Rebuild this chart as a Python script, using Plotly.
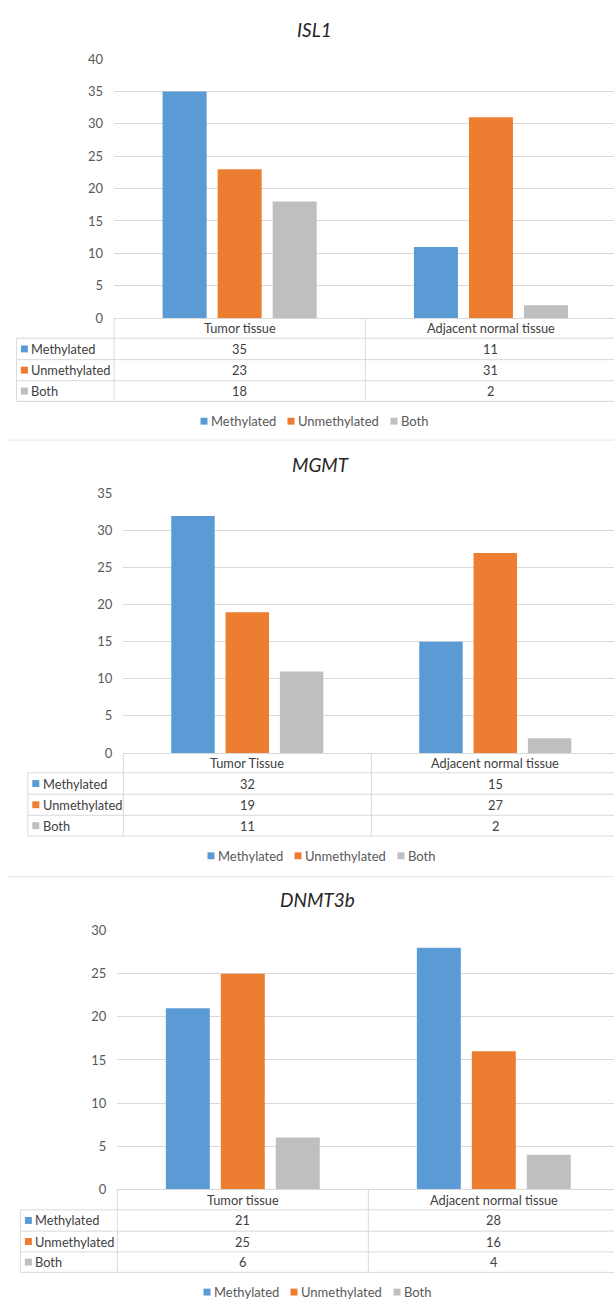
import plotly.graph_objects as go

W, H = 614, 1307

# ---------------- data ----------------
genes = ["ISL1", "MGMT", "DNMT3b"]
series_names = ["Methylated", "Unmethylated", "Both"]
cats_isl1 = ["Tumor tissue", "Adjacent normal tissue"]
cats_mgmt = ["Tumor Tissue", "Adjacent normal tissue"]
cats_dnmt3b = ["Tumor tissue", "Adjacent normal tissue"]

isl1_methylated = [35, 11]
isl1_unmethylated = [23, 31]
isl1_both = [18, 2]

mgmt_methylated = [32, 15]
mgmt_unmethylated = [19, 27]
mgmt_both = [11, 2]

dnmt3b_methylated = [21, 28]
dnmt3b_unmethylated = [25, 16]
dnmt3b_both = [6, 4]

y_max = [40, 35, 30]
y_step = 5

colors = ["#5B9BD5", "#ED7D31", "#BFBFBF"]

datasets = [
    (cats_isl1, [isl1_methylated, isl1_unmethylated, isl1_both]),
    (cats_mgmt, [mgmt_methylated, mgmt_unmethylated, mgmt_both]),
    (cats_dnmt3b, [dnmt3b_methylated, dnmt3b_unmethylated, dnmt3b_both]),
]

# ---------------- layout geometry (pixels) ----------------
panels = [
    dict(plot_left=114.0, y0=314.0, ytop=51.7, label_left=16.4,
         rows=[334.3, 356.0, 377.3, 398.3], title_y=22, legend_y=418.3,
         sep=437.5, center=314, cat_px=251.3),
    dict(plot_left=123.3, y0=754.2, ytop=491.7, label_left=27.8,
         rows=[774.3, 796.0, 817.3, 838.3], title_y=462, legend_y=858.3,
         sep=879.5, center=321, cat_px=248.0),
    dict(plot_left=117.3, y0=1196.0, ytop=934.0, label_left=20.4,
         rows=[1216.7, 1238.3, 1259.3, 1280.0], title_y=903, legend_y=1300.0,
         sep=None, center=317, cat_px=251.0),
]

FONT = "Lato, 'Open Sans', sans-serif"
GRID = "#D9D9D9"
TXT = "#404040"
TICK = "#595959"
TS = 12.8


def px(x):
    return x / W


def py(y):
    return 1 - y / H


fig = go.Figure()
shapes = []
annotations = []
layout_axes = {}

for i, (p, (cats, series)) in enumerate(zip(panels, datasets)):
    sfx = "" if i == 0 else str(i + 1)
    xa, ya = "x" + sfx, "y" + sfx
    for name, vals, col in zip(series_names, series, colors):
        fig.add_trace(go.Bar(
            x=cats, y=vals, name=name, marker=dict(color=col, line=dict(width=0)),
            xaxis=xa, yaxis=ya, showlegend=False,
        ))

    xr = [-0.5, -0.5 + (W - p["plot_left"]) / p["cat_px"]]
    layout_axes["xaxis" + sfx] = dict(
        domain=[px(p["plot_left"]), 1.0], anchor=ya, type="category",
        range=xr, showgrid=False, zeroline=False,
        showline=True, linecolor=GRID, linewidth=1,
        ticks="", showticklabels=False,
    )
    layout_axes["yaxis" + sfx] = dict(
        domain=[py(p["y0"]), py(p["ytop"])], anchor=xa,
        range=[0, y_max[i]], tickmode="array",
        tickvals=list(range(0, y_max[i] + 1, y_step)),
        showgrid=True, gridcolor=GRID, gridwidth=1, zeroline=False,
        showline=False, ticks="", ticklabelstandoff=10,
        tickfont=dict(family=FONT, size=13, color=TICK),
    )

    rows = p["rows"]
    L = p["label_left"]
    line = dict(color=GRID, width=1)
    # horizontal table lines
    for yy in rows:
        shapes.append(dict(type="line", xref="paper", yref="paper",
                           x0=px(L), x1=1.0, y0=py(yy), y1=py(yy), line=line))
    # vertical table lines
    shapes.append(dict(type="line", xref="paper", yref="paper",
                       x0=px(L), x1=px(L), y0=py(rows[0]), y1=py(rows[-1]), line=line))
    shapes.append(dict(type="line", xref="paper", yref="paper",
                       x0=px(p["plot_left"]), x1=px(p["plot_left"]),
                       y0=py(p["y0"]), y1=py(rows[-1]), line=line))
    shapes.append(dict(type="line", xref=xa, yref="paper",
                       x0=0.5, x1=0.5, y0=py(p["y0"]), y1=py(rows[-1]), line=line))

    # header row (category names)
    yh = (p["y0"] + rows[0]) / 2
    for c, cat in enumerate(cats):
        annotations.append(dict(text=cat, xref=xa, yref="paper",
                                x=c, y=py(yh), xanchor="center", yanchor="middle",
                                showarrow=False, font=dict(family=FONT, size=TS, color=TXT)))

    # table rows
    for r, (name, vals, col) in enumerate(zip(series_names, series, colors)):
        yc = (rows[r] + rows[r + 1]) / 2
        shapes.append(dict(type="rect", xref="paper", yref="paper",
                           x0=px(L + 4.5), x1=px(L + 11.5),
                           y0=py(yc + 3.5), y1=py(yc - 3.5),
                           fillcolor=col, line=dict(width=0)))
        annotations.append(dict(text=name, xref="paper", yref="paper",
                                x=px(L + 13.0), y=py(yc), xanchor="left", yanchor="middle",
                                showarrow=False, font=dict(family=FONT, size=TS, color=TXT)))
        for c, v in enumerate(vals):
            annotations.append(dict(text=str(v), xref=xa, yref="paper",
                                    x=c, y=py(yc), xanchor="center", yanchor="middle",
                                    showarrow=False, font=dict(family=FONT, size=TS, color=TXT)))

    # title
    annotations.append(dict(text="<i>%s</i>" % genes[i], xref="paper", yref="paper",
                            x=px(p["center"]), y=py(p["title_y"]), xanchor="center",
                            yanchor="middle", showarrow=False,
                            font=dict(family=FONT, size=19, color="#262626")))

    # legend
    start = p["center"] - 113.5
    sq_off = [0, 87, 190]
    tx_off = [8.5, 95.5, 198.5]
    for name, col, so, to in zip(series_names, colors, sq_off, tx_off):
        shapes.append(dict(type="rect", xref="paper", yref="paper",
                           x0=px(start + so), x1=px(start + so + 7),
                           y0=py(p["legend_y"] + 3.5), y1=py(p["legend_y"] - 3.5),
                           fillcolor=col, line=dict(width=0)))
        annotations.append(dict(text=name, xref="paper", yref="paper",
                                x=px(start + to), y=py(p["legend_y"]),
                                xanchor="left", yanchor="middle", showarrow=False,
                                font=dict(family=FONT, size=13, color=TICK)))

    if p["sep"] is not None:
        shapes.append(dict(type="line", xref="paper", yref="paper",
                           x0=px(7), x1=1.0, y0=py(p["sep"]), y1=py(p["sep"]),
                           line=dict(color="#E6E6E6", width=1)))

fig.update_layout(
    width=W, height=H, margin=dict(l=0, r=0, t=0, b=0),
    paper_bgcolor="white", plot_bgcolor="white",
    barmode="group", bargap=0.343, bargroupgap=0.2,
    shapes=shapes, annotations=annotations,
    font=dict(family=FONT, size=13, color=TXT),
    **layout_axes,
)

fig.write_html("out.html")
